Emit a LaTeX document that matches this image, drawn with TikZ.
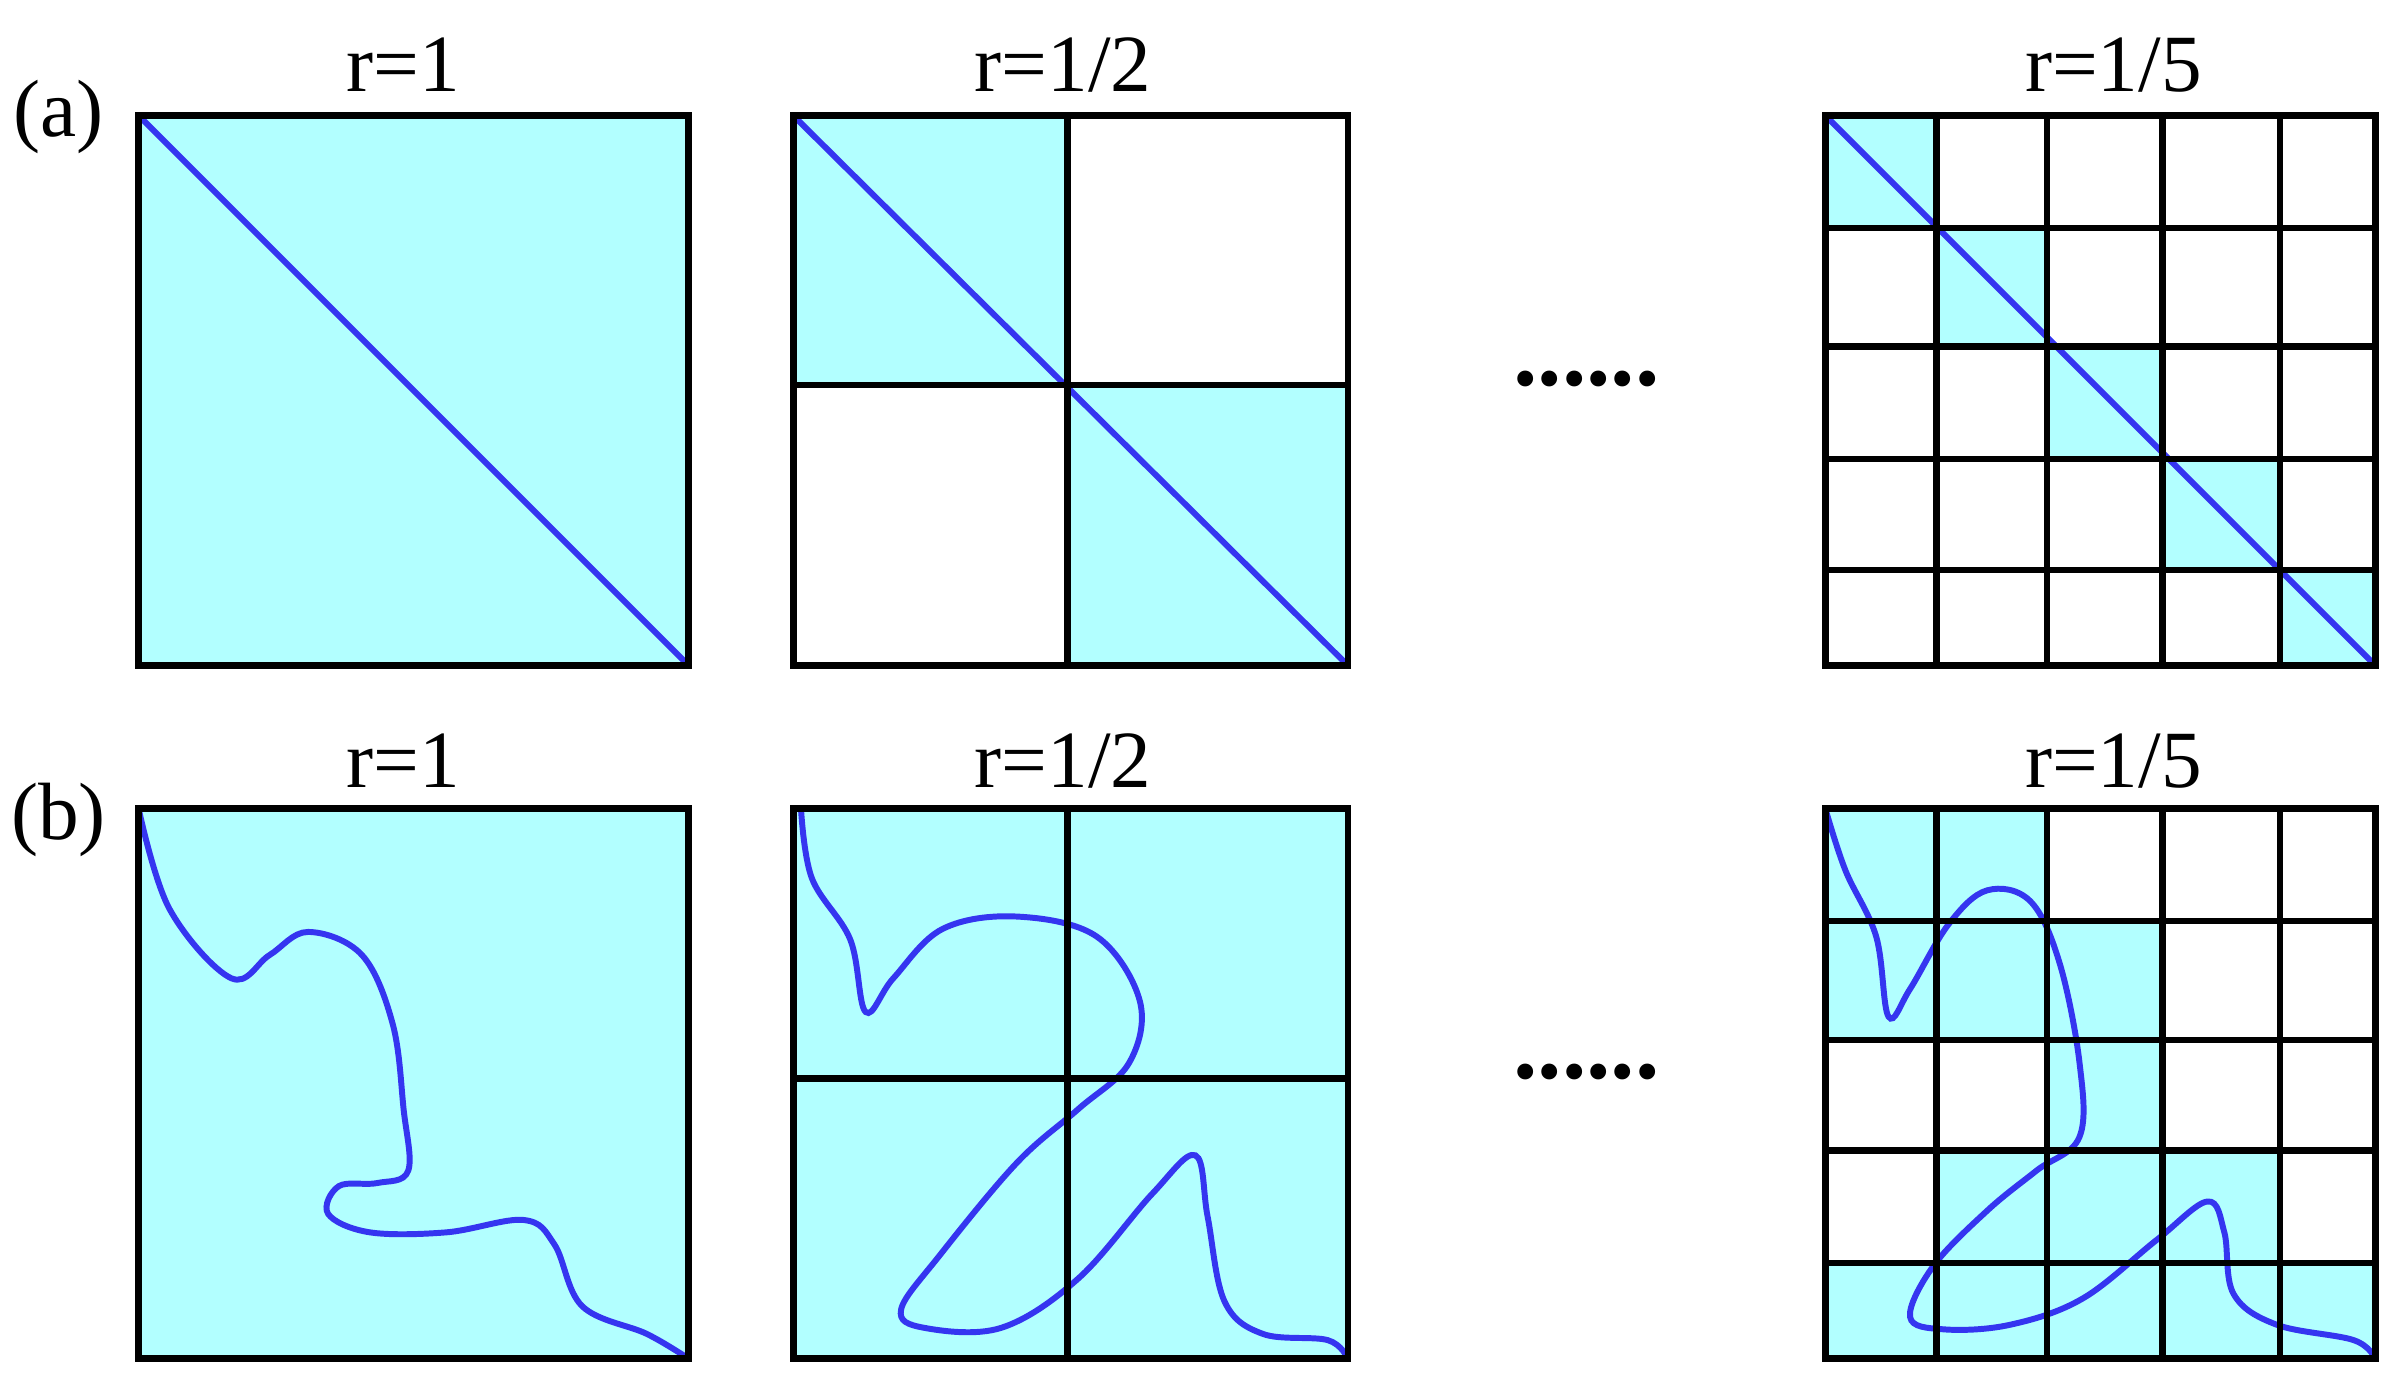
\documentclass[tikz,border=0pt]{standalone}
\usepackage{fontspec}
\setmainfont{Liberation Serif}
\begin{document}
\begin{tikzpicture}[x=0.01cm,y=-0.01cm,
  box/.style={line width=1.2pt,draw=black},
  curve/.style={draw=curveblue,line width=1.1pt},
  lab/.style={font=\fontsize{15}{17}\selectfont},
  dots/.style={font=\fontsize{18}{20}\selectfont\bfseries}]
\definecolor{cyanfill}{HTML}{B2FFFF}
\definecolor{curveblue}{HTML}{3535F0}
\useasboundingbox (0,0) rectangle (1560,900);
% labels
\node[lab] (t1) at (262,42) {r=1};
\node[lab] (t2) at (690,42) {r=1/2};
\node[lab] (t3) at (1372,42) {r=1/5};
\node[lab] (b1) at (262,494) {r=1};
\node[lab] (b2) at (690,494) {r=1/2};
\node[lab] (b3) at (1372,494) {r=1/5};
\node[lab] (la) at (38,76) {(a)};
\node[lab] (lb) at (38,532) {(b)};
\node[dots] (d1) at (1030,246) {......};
\node[dots] (d2) at (1030,696) {......};
% ---- row a
\fill[cyanfill] (90,75) rectangle (447,432);
\draw[curve] (90,75) -- (447,432);
\draw[box] (90,75) rectangle (447,432);
\fill[cyanfill] (515,75) rectangle (693,250) (693,250) rectangle (875,432);
\draw[curve] (515,75) -- (875,432);
\draw[box] (515,75) rectangle (875,432) (693,75) -- (693,432) (515,250) -- (875,250);
\foreach \i in {0,...,4}{
  \pgfmathsetmacro\xa{{1185,1257,1329,1404,1480,1542}[\i]}
  \pgfmathsetmacro\xb{{1185,1257,1329,1404,1480,1542}[\i+1]}
  \pgfmathsetmacro\ya{{75,148,225,298,370,432}[\i]}
  \pgfmathsetmacro\yb{{75,148,225,298,370,432}[\i+1]}
  \fill[cyanfill] (\xa,\ya) rectangle (\xb,\yb);
}
\draw[curve] (1185,75) -- (1542,432);
\draw[box] (1185,75) rectangle (1542,432);
\foreach \x in {1257,1329,1404,1480} \draw[box] (\x,75) -- (\x,432);
\foreach \y in {148,225,298,370} \draw[box] (1185,\y) -- (1542,\y);
% ---- row b
\fill[cyanfill] (90,525) rectangle (447,882);
\draw[curve] plot[smooth,tension=0.6] coordinates {(90,525) (110,590) (150,635) (175,620) (200,605) (235,620) (255,665) (262,720) (265,760) (245,768) (220,770) (213,788) (240,800) (290,800) (340,792) (360,808) (378,848) (420,866) (447,882)};
\draw[box] (90,525) rectangle (447,882);
\fill[cyanfill] (515,525) rectangle (875,882);
\draw[curve] plot[smooth,tension=0.6] coordinates {(520,525) (527,570) (552,610) (562,657) (580,635) (612,603) (660,595) (712,608) (740,650) (733,690) (700,720) (660,755) (610,815) (585,850) (600,862) (650,862) (700,830) (748,775) (776,750) (784,790) (795,845) (820,866) (862,870) (875,882)};
\draw[box] (515,525) rectangle (875,882) (693,525) -- (693,882) (515,700) -- (875,700);
\foreach \cx/\cy in {0/0,1/0,0/1,1/1,2/1,2/2,1/3,2/3,3/3,0/4,1/4,2/4,3/4,4/4}{
  \pgfmathsetmacro\xa{{1185,1257,1329,1404,1480,1542}[\cx]}
  \pgfmathsetmacro\xb{{1185,1257,1329,1404,1480,1542}[\cx+1]}
  \pgfmathsetmacro\ya{{525,598,675,747,820,882}[\cy]}
  \pgfmathsetmacro\yb{{525,598,675,747,820,882}[\cy+1]}
  \fill[cyanfill] (\xa,\ya) rectangle (\xb,\yb);
}
\draw[curve] plot[smooth,tension=0.6] coordinates {(1185,525) (1198,565) (1218,608) (1226,660) (1240,642) (1265,600) (1290,578) (1318,585) (1337,625) (1350,690) (1350,738) (1322,760) (1290,786) (1255,822) (1240,855) (1262,863) (1305,860) (1352,843) (1400,805) (1433,780) (1444,800) (1450,840) (1478,860) (1528,870) (1542,882)};
\draw[box] (1185,525) rectangle (1542,882);
\foreach \x in {1257,1329,1404,1480} \draw[box] (\x,525) -- (\x,882);
\foreach \y in {598,675,747,820} \draw[box] (1185,\y) -- (1542,\y);
\end{tikzpicture}
\end{document}
